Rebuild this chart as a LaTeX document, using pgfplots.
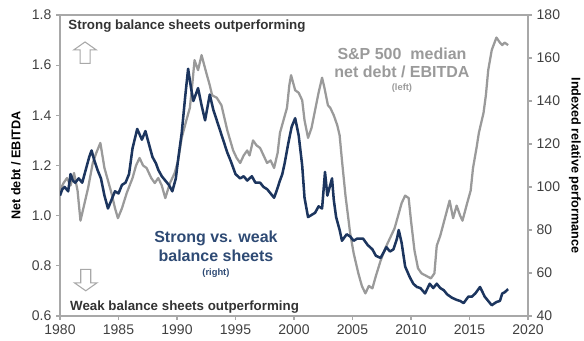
\documentclass[border=0pt]{standalone}
\usepackage{pgfplots}
\pgfplotsset{compat=1.18}
\usepackage{fontspec}
\setmainfont{Liberation Sans}
\definecolor{navy}{HTML}{1C355E}
\definecolor{grayline}{HTML}{9A9A9A}
\definecolor{axisgray}{HTML}{A8A8A8}
\definecolor{ticktext}{HTML}{404040}
\definecolor{navytext}{HTML}{2E4A74}
\definecolor{annot}{HTML}{333333}

\pgfplotstableread{
x y
1980.0 1.10
1980.3 1.13
1980.6 1.15
1980.9 1.12
1981.2 1.17
1981.5 1.10
1981.75 0.98
1982.0 1.03
1982.4 1.11
1982.8 1.21
1983.1 1.25
1983.45 1.29
1983.8 1.19
1984.1 1.14
1984.4 1.09
1984.7 1.03
1984.95 0.99
1985.3 1.03
1985.7 1.09
1986.2 1.15
1986.5 1.20
1986.8 1.23
1987.1 1.20
1987.4 1.19
1987.8 1.15
1988.1 1.13
1988.4 1.15
1988.7 1.12
1989.0 1.07
1989.4 1.13
1989.8 1.17
1990.1 1.22
1990.4 1.31
1990.8 1.38
1991.1 1.43
1991.3 1.52
1991.5 1.62
1991.8 1.58
1992.1 1.64
1992.5 1.57
1992.8 1.52
1993.0 1.48
1993.4 1.47
1993.8 1.44
1994.0 1.40
1994.3 1.34
1994.8 1.26
1995.1 1.23
1995.4 1.21
1995.7 1.24
1996.0 1.26
1996.2 1.24
1996.5 1.30
1996.8 1.28
1997.1 1.27
1997.4 1.24
1997.7 1.21
1998.0 1.22
1998.3 1.19
1998.6 1.25
1998.8 1.33
1999.1 1.38
1999.4 1.43
1999.6 1.52
1999.75 1.56
2000.1 1.50
2000.4 1.49
2000.7 1.46
2000.9 1.38
2001.2 1.31
2001.5 1.35
2001.8 1.42
2002.1 1.49
2002.4 1.55
2002.6 1.51
2002.9 1.44
2003.1 1.43
2003.4 1.40
2003.7 1.36
2003.9 1.32
2004.1 1.22
2004.4 1.08
2004.8 0.93
2005.1 0.85
2005.5 0.77
2005.8 0.72
2006.1 0.69
2006.4 0.72
2006.7 0.71
2007.0 0.76
2007.4 0.82
2007.8 0.87
2008.2 0.91
2008.6 0.95
2008.9 1.00
2009.2 1.05
2009.5 1.08
2009.8 1.07
2010.0 0.98
2010.3 0.86
2010.6 0.79
2010.9 0.77
2011.3 0.76
2011.7 0.75
2012.0 0.77
2012.2 0.88
2012.5 0.92
2012.9 0.99
2013.3 1.06
2013.6 0.99
2013.9 1.04
2014.2 1.00
2014.4 0.98
2014.8 1.05
2015.1 1.10
2015.3 1.19
2015.6 1.27
2015.8 1.33
2016.2 1.41
2016.4 1.48
2016.6 1.58
2016.9 1.66
2017.3 1.71
2017.6 1.69
2017.8 1.68
2018.0 1.69
2018.3 1.68
}\graydata

\pgfplotstableread{
x y
1980.0 96
1980.2 99
1980.4 100
1980.7 98
1980.9 106
1981.1 103
1981.3 102
1981.6 104
1981.9 102
1982.2 108
1982.5 114
1982.7 117
1982.9 113
1983.2 108
1983.5 104
1983.8 96
1984.1 90
1984.4 94
1984.7 98
1985.0 97
1985.3 101
1985.6 102
1985.9 106
1986.2 118
1986.6 127
1987.0 122
1987.3 126
1987.6 120
1987.9 114
1988.2 111
1988.4 108
1988.7 105
1989.0 103
1989.3 101
1989.6 98
1989.9 104
1990.1 113
1990.4 125
1990.7 142
1990.95 155
1991.2 146
1991.4 140
1991.8 146
1992.1 138
1992.4 131
1992.8 143
1993.1 136
1993.4 131
1993.7 126
1994.0 121
1994.3 116
1994.6 112
1995.0 106
1995.4 104
1995.7 105
1996.0 103
1996.4 105
1996.7 102
1997.1 102
1997.4 100
1997.7 99
1998.0 97
1998.3 95
1998.5 98
1998.8 103
1999.0 106
1999.2 111
1999.5 120
1999.8 128
2000.1 132
2000.4 124
2000.7 110
2000.9 95
2001.2 86
2001.5 87
2001.8 88
2002.1 91
2002.4 90
2002.65 107
2002.85 96
2003.25 104
2003.4 94
2003.6 86
2003.9 80
2004.1 75
2004.5 78
2004.8 77
2005.1 75
2005.4 76
2005.9 76
2006.3 73
2006.7 71
2007.0 68
2007.4 67
2007.7 70
2007.9 72
2008.2 70
2008.5 71
2008.8 76
2008.95 80
2009.2 74
2009.5 63
2009.9 58
2010.2 55
2010.5 53.5
2010.8 53
2011.2 50.5
2011.6 55
2011.9 53
2012.2 55
2012.5 53
2012.8 52
2013.1 50
2013.5 48.5
2013.9 47.5
2014.2 47
2014.5 46
2014.9 49
2015.2 49
2015.5 50.5
2015.9 53.5
2016.3 49
2016.6 47
2016.9 45
2017.3 46.5
2017.6 47
2017.8 50.5
2018.0 51
2018.3 52.5
}\navydata

\pgfplotsset{
  common/.style={
    scale only axis, width=351pt, height=225.75pt,
    xmin=1980, xmax=2020,
    clip mode=individual,
    axis line style={axisgray, line width=0.8pt},
    major tick style={axisgray, line width=0.8pt},
    tick align=outside, major tick length=3pt,
    tick label style={font=\fontsize{10.5}{12}\selectfont, text=ticktext},
    /pgf/number format/assume math mode=true,
    /pgf/number format/1000 sep={},
  }
}

\begin{document}
\begin{tikzpicture}
\useasboundingbox (-45pt,-18.75pt) rectangle (393pt,237pt);
\begin{axis}[common,
  ymin=0.6, ymax=1.8,
  ytick={0.6,0.8,1.0,1.2,1.4,1.6,1.8},
  yticklabel style={/pgf/number format/fixed, /pgf/number format/fixed zerofill, /pgf/number format/precision=1},
  xtick={1980,1985,1990,1995,2000,2005,2010,2015,2020},
  xtick pos=bottom, ytick pos=left,
]
\addplot[grayline, line width=1.7pt, line join=round] table[x=x,y=y] {\graydata};
\node[font=\fontsize{10}{12}\selectfont\bfseries, text=annot, anchor=west, inner sep=0pt] at (axis cs:1980.7,1.756) {Strong balance sheets outperforming};
\node[font=\fontsize{10}{12}\selectfont\bfseries, text=annot, anchor=west, inner sep=0pt] at (axis cs:1980.85,0.636) {Weak balance sheets outperforming};
\draw[axisgray, line width=0.8pt, fill=white, shift={(axis cs:1982.14,1.65)}]
  (-3.75pt,-8pt) -- (3.75pt,-8pt) -- (3.75pt,2pt) -- (8.5pt,2pt) -- (0pt,8pt) -- (-8.5pt,2pt) -- (-3.75pt,2pt) -- cycle;
\draw[axisgray, line width=0.8pt, fill=white, shift={(axis cs:1982.2,0.743)}]
  (-3.75pt,8pt) -- (3.75pt,8pt) -- (3.75pt,-2pt) -- (8.5pt,-2pt) -- (0pt,-8pt) -- (-8.5pt,-2pt) -- (-3.75pt,-2pt) -- cycle;
\node[font=\fontsize{12}{14}\selectfont\bfseries, text=grayline, inner sep=0pt] at (axis cs:2009.23,1.6465) {S\&P 500\ \ median};
\node[font=\fontsize{12}{14}\selectfont\bfseries, text=grayline, inner sep=0pt] at (axis cs:2009.23,1.5747) {net debt / EBITDA};
\node[font=\fontsize{7}{8}\selectfont\bfseries, text=grayline, inner sep=0pt] at (axis cs:2009.23,1.509) {(left)};
\node[font=\fontsize{12}{14}\selectfont\bfseries, text=navytext, inner sep=0pt] at (axis cs:1993.33,0.911) {Strong vs. weak};
\node[font=\fontsize{12}{14}\selectfont\bfseries, text=navytext, inner sep=0pt] at (axis cs:1993.33,0.839) {balance sheets};
\node[font=\fontsize{7}{8}\selectfont\bfseries, text=navytext, inner sep=0pt] at (axis cs:1993.33,0.771) {(right)};
\node[font=\fontsize{9.5}{11}\selectfont\bfseries, text=black, rotate=90] at (rel axis cs:-0.094,0.5) {Net debt / EBITDA};
\end{axis}
\begin{axis}[common,
  ymin=40, ymax=180,
  ytick={40,60,80,100,120,140,160,180},
  axis x line=none, axis y line*=right, ytick pos=right,
]
\addplot[navy, line width=1.9pt, line join=round] table[x=x,y=y] {\navydata};
\node[font=\fontsize{9.5}{11}\selectfont\bfseries, text=black, rotate=-90] at (rel axis cs:1.1004,0.5) {Indexed relative performance};
\end{axis}
\end{tikzpicture}
\end{document}
